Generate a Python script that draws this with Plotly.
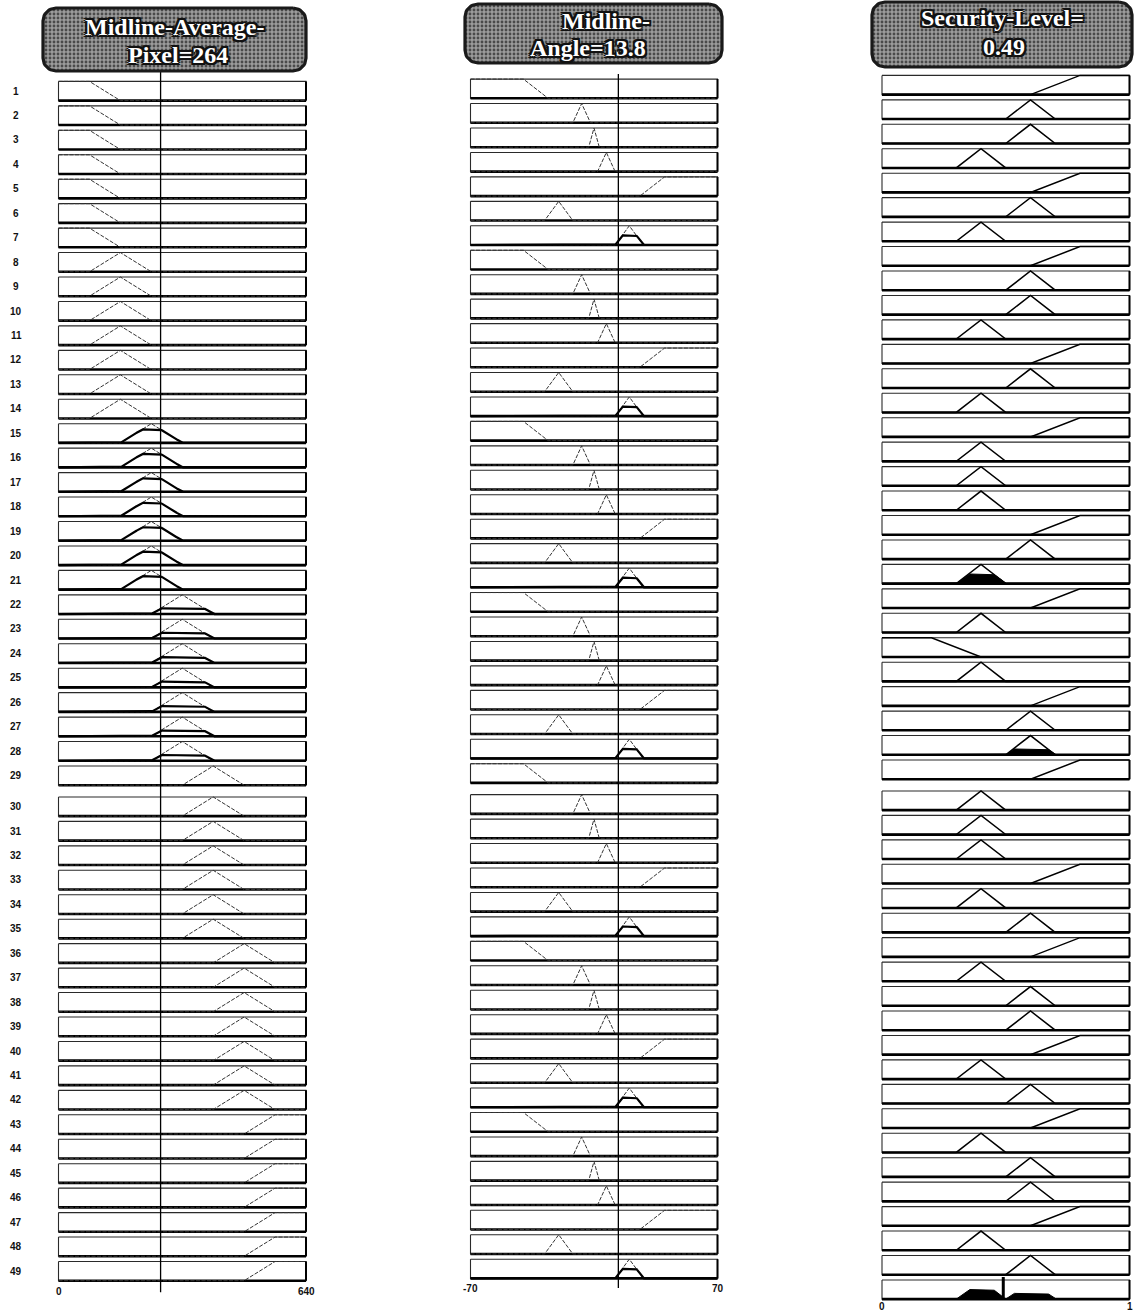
import numpy as np
import plotly.graph_objects as go

# ---------------- fuzzy system description ----------------
var_names = ["Midline-Average-Pixel", "Midline-Angle", "Security-Level"]
var_values = [264, 13.8, 0.49]
var_ranges = [(0, 640), (-70, 70), (0, 1)]
range_labels = [("0", "640"), ("-70", "70"), ("0", "1")]

# membership functions as piecewise-linear breakpoints
pixel_mf_x = [[0, 80, 160, 640], [0, 80, 160, 240, 640], [0, 160, 240, 320, 640],
              [0, 240, 320, 400, 640], [0, 320, 400, 480, 640], [0, 400, 480, 560, 640],
              [0, 480, 560, 640]]
pixel_mf_y = [[1, 1, 0, 0], [0, 0, 1, 0, 0], [0, 0, 1, 0, 0], [0, 0, 1, 0, 0],
              [0, 0, 1, 0, 0], [0, 0, 1, 0, 0], [0, 0, 1, 1]]

angle_mf_x = [[-70, -40, -26, 70], [-70, -12, -7, -2, 70], [-70, -3, 0, 3, 70],
              [-70, 2, 7, 12, 70], [-70, 26, 40, 70], [-70, -28, -20, -12, 70],
              [-70, 12, 20, 28, 70]]
angle_mf_y = [[1, 1, 0, 0], [0, 0, 1, 0, 0], [0, 0, 1, 0, 0], [0, 0, 1, 0, 0],
              [0, 0, 1, 1], [0, 0, 1, 0, 0], [0, 0, 1, 0, 0]]

level_mf_x = [[0, 0.2, 0.4, 1], [0, 0.3, 0.4, 0.5, 1], [0, 0.5, 0.6, 0.7, 1], [0, 0.6, 0.8, 1]]
level_mf_y = [[1, 1, 0, 0], [0, 0, 1, 0, 0], [0, 0, 1, 0, 0], [0, 0, 1, 1]]

# degree of membership of the current inputs in each input set
pixel_degree = [0, 0, 0.7, 0.3, 0, 0, 0]
angle_degree = [0, 0, 0, 0, 0, 0, 0.5]

# rule base (set indices, 0-based)
rule_pixel = [0, 0, 0, 0, 0, 0, 0,
              1, 1, 1, 1, 1, 1, 1,
              2, 2, 2, 2, 2, 2, 2,
              3, 3, 3, 3, 3, 3, 3,
              4, 4, 4, 4, 4, 4, 4,
              5, 5, 5, 5, 5, 5, 5,
              6, 6, 6, 6, 6, 6, 6]
rule_angle = [0, 1, 2, 3, 4, 5, 6,
              0, 1, 2, 3, 4, 5, 6,
              0, 1, 2, 3, 4, 5, 6,
              0, 1, 2, 3, 4, 5, 6,
              0, 1, 2, 3, 4, 5, 6,
              0, 1, 2, 3, 4, 5, 6,
              0, 1, 2, 3, 4, 5, 6]
rule_level = [3, 2, 2, 1, 3, 2, 1,
              3, 2, 2, 1, 3, 2, 1,
              3, 1, 1, 1, 3, 2, 1,
              3, 1, 0, 1, 3, 2, 2,
              3, 1, 1, 1, 3, 1, 2,
              3, 1, 2, 2, 3, 1, 2,
              3, 1, 2, 2, 3, 1, 2]
rule_numbers = list(range(1, len(rule_pixel) + 1))

# ---------------- geometry ----------------
W, H = 1134, 1311
col_px = [(58.5, 306.0), (470.5, 717.5), (882.0, 1129.5)]
col_top = [91.0, 88.7, 85.0]          # centre of the first row, px
row_px = 24.45
gap_rows = 6.5 / row_px               # extra space after row 29
half_h = 9.6 / row_px
pad_px = 4
line_span = [(-0.8, 0.86), (-0.6, 0.79)]
label_px = [1291, 1288, 1306]

headers = [
    dict(box=(43, 8, 306, 71), lines=[("Midline-Average-", 175, 27), (f"Pixel={var_values[0]}", 178, 55)]),
    dict(box=(465, 4, 722, 63), lines=[("Midline-", 606, 21), (f"Angle={var_values[1]}", 588, 48)]),
    dict(box=(872, 2, 1132, 67), lines=[("Security-Level=", 1002, 18), (f"{var_values[2]}", 1004, 47)]),
]

n_rules = len(rule_pixel)


def row_u(i):
    return (i - 1) + (gap_rows if i >= 30 else 0.0)


def clipped(xs, ys, level, lo, hi, n=1601):
    g = np.union1d(np.linspace(lo, hi, n), np.array(xs, dtype=float))
    return g, np.minimum(np.interp(g, xs, ys), level)


fig = go.Figure()
ax_ids = [("x", "y"), ("x2", "y2"), ("x3", "y3")]

input_sets = [(pixel_mf_x, pixel_mf_y, pixel_degree, rule_pixel),
              (angle_mf_x, angle_mf_y, angle_degree, rule_angle)]

rule_strength = [min(pixel_degree[p], angle_degree[a]) for p, a in zip(rule_pixel, rule_angle)]

for c in range(3):
    xa, ya = ax_ids[c]
    vmin, vmax = var_ranges[c]
    rows = n_rules + (1 if c == 2 else 0)

    # row frames
    fx, fy, bx, by, rx, ry = [], [], [], [], [], []
    for i in range(1, rows + 1):
        u = row_u(i)
        t, b = u - half_h, u + half_h
        fx += [vmin, vmax, vmax, vmin, vmin, None]
        fy += [t, t, b, b, t, None]
        bx += [vmin, vmax, None]
        by += [b, b, None]
        rx += [vmax, vmax, None]
        ry += [t, b, None]
    fig.add_trace(go.Scatter(x=fx, y=fy, mode="lines", line=dict(color="#2a2a2a", width=1.1),
                             xaxis=xa, yaxis=ya, hoverinfo="skip"))
    fig.add_trace(go.Scatter(x=bx, y=by, mode="lines", line=dict(color="#000", width=2.6),
                             xaxis=xa, yaxis=ya, hoverinfo="skip"))
    fig.add_trace(go.Scatter(x=rx, y=ry, mode="lines", line=dict(color="#000", width=2.0),
                             xaxis=xa, yaxis=ya, hoverinfo="skip"))

    if c < 2:
        mfx, mfy, deg, rule_idx = input_sets[c]
        lx, ly, hx, hy = [], [], [], []
        for i in range(1, n_rules + 1):
            k = rule_idx[i - 1]
            b = row_u(i) + half_h
            lx += list(mfx[k]) + [None]
            ly += [b - v * 2 * half_h for v in mfy[k]] + [None]
            if deg[k] > 0:
                g, m = clipped(mfx[k], mfy[k], deg[k], vmin, vmax)
                hx += list(g) + [None]
                hy += list(b - m * 2 * half_h) + [None]
        fig.add_trace(go.Scatter(x=lx, y=ly, mode="lines",
                                 line=dict(color="#333", width=1, dash="4px,1.5px"),
                                 xaxis=xa, yaxis=ya, hoverinfo="skip"))
        fig.add_trace(go.Scatter(x=hx, y=hy, mode="lines", line=dict(color="#000", width=2.2),
                                 xaxis=xa, yaxis=ya, hoverinfo="skip"))
        # current input value
        t0, t1 = line_span[c]
        fig.add_trace(go.Scatter(x=[var_values[c], var_values[c]],
                                 y=[row_u(1) + t0, row_u(n_rules) + t1], mode="lines",
                                 line=dict(color="#000", width=1.3),
                                 xaxis=xa, yaxis=ya, hoverinfo="skip"))
    else:
        lx, ly, px, py = [], [], [], []
        agg_g = np.linspace(vmin, vmax, 2001)
        agg = np.zeros_like(agg_g)
        for i in range(1, n_rules + 1):
            k = rule_level[i - 1]
            b = row_u(i) + half_h
            lx += list(level_mf_x[k]) + [None]
            ly += [b - v * 2 * half_h for v in level_mf_y[k]] + [None]
            s = rule_strength[i - 1]
            if s > 0:
                g, m = clipped(level_mf_x[k], level_mf_y[k], s, vmin, vmax)
                px += list(g) + [vmax, vmin, None]
                py += list(b - m * 2 * half_h) + [b, b, None]
                agg = np.maximum(agg, np.minimum(np.interp(agg_g, level_mf_x[k], level_mf_y[k]), s))
        bagg = row_u(n_rules + 1) + half_h
        px += list(agg_g) + [vmax, vmin, None]
        py += list(bagg - agg * 2 * half_h) + [bagg, bagg, None]
        fig.add_trace(go.Scatter(x=px, y=py, mode="lines", fill="toself", fillcolor="#000",
                                 line=dict(color="#000", width=1), xaxis=xa, yaxis=ya,
                                 hoverinfo="skip"))
        fig.add_trace(go.Scatter(x=lx, y=ly, mode="lines", line=dict(color="#000", width=1.5),
                                 xaxis=xa, yaxis=ya, hoverinfo="skip"))
        ua = row_u(n_rules + 1)
        fig.add_trace(go.Scatter(x=[var_values[2], var_values[2]],
                                 y=[ua - half_h - 0.12, ua + half_h], mode="lines",
                                 line=dict(color="#000", width=3),
                                 xaxis=xa, yaxis=ya, hoverinfo="skip"))

# ---------------- headers ----------------
annotations = []
outline = ("-2px -2px 0 #111, 2px -2px 0 #111, -2px 2px 0 #111, 2px 2px 0 #111, "
           "0 2px 0 #111, 0 -2px 0 #111, 2px 0 0 #111, -2px 0 0 #111")
for h in headers:
    x0, y0, x1, y1 = h["box"]
    r = 13
    th = np.linspace(0, np.pi / 2, 12)
    xs, ys = [], []
    for cx, cy, a0 in [(x1 - r, y0 + r, -np.pi / 2), (x1 - r, y1 - r, 0),
                       (x0 + r, y1 - r, np.pi / 2), (x0 + r, y0 + r, np.pi)]:
        xs += list(cx + r * np.cos(a0 + th))
        ys += list(cy + r * np.sin(a0 + th))
    xs.append(xs[0]); ys.append(ys[0])
    fig.add_trace(go.Scatter(x=xs, y=ys, mode="lines", fill="toself",
                             fillcolor="#8e8e8e",
                             fillpattern=dict(shape=".", bgcolor="#9c9c9c", fgcolor="#4a4a4a",
                                              size=4, solidity=0.4, fillmode="replace"),
                             line=dict(color="#1a1a1a", width=3.2),
                             xaxis="x4", yaxis="y4", hoverinfo="skip"))
    for txt, tx, ty in h["lines"]:
        annotations.append(dict(text=txt, x=tx, y=ty, xref="x4", yref="y4", showarrow=False,
                                xanchor="center", yanchor="middle",
                                font=dict(family="Liberation Serif", size=24, color="#ffffff",
                                          weight="bold", shadow=outline)))

# rule numbers
for i in rule_numbers:
    annotations.append(dict(text=str(i), x=16 / W, y=row_u(i), xref="paper", yref="y",
                            showarrow=False, xanchor="center", yanchor="middle",
                            font=dict(family="Liberation Sans", size=10, color="#111",
                                      weight="bold")))

# range labels under each column
for c in range(3):
    xa, ya = ax_ids[c]
    vmin, vmax = var_ranges[c]
    uy = (label_px[c] - col_top[c]) / row_px
    for v, txt in zip((vmin, vmax), range_labels[c]):
        annotations.append(dict(text=txt, x=v, y=uy, xref=xa, yref=ya, showarrow=False,
                                xanchor="center", yanchor="middle",
                                font=dict(family="Liberation Sans", size=10, color="#111",
                                          weight="bold")))

layout = dict(width=W, height=H, margin=dict(l=0, r=0, t=0, b=0),
              paper_bgcolor="#ffffff", plot_bgcolor="rgba(0,0,0,0)", showlegend=False,
              annotations=annotations)
for c in range(3):
    xa, ya = ax_ids[c]
    x0, x1 = col_px[c]
    vmin, vmax = var_ranges[c]
    per_px = (vmax - vmin) / (x1 - x0)
    key = "" if c == 0 else str(c + 1)
    layout["xaxis" + key] = dict(domain=[(x0 - pad_px) / W, (x1 + pad_px) / W],
                                 range=[vmin - pad_px * per_px, vmax + pad_px * per_px],
                                 visible=False, anchor=ya, fixedrange=True)
    layout["yaxis" + key] = dict(domain=[0, 1],
                                 range=[(H - col_top[c]) / row_px, -col_top[c] / row_px],
                                 visible=False, anchor=xa, fixedrange=True)
layout["xaxis4"] = dict(domain=[0, 1], range=[0, W], visible=False, anchor="y4", fixedrange=True)
layout["yaxis4"] = dict(domain=[0, 1], range=[H, 0], visible=False, anchor="x4", fixedrange=True)

fig.update_layout(**layout)
fig.write_html("out.html")
